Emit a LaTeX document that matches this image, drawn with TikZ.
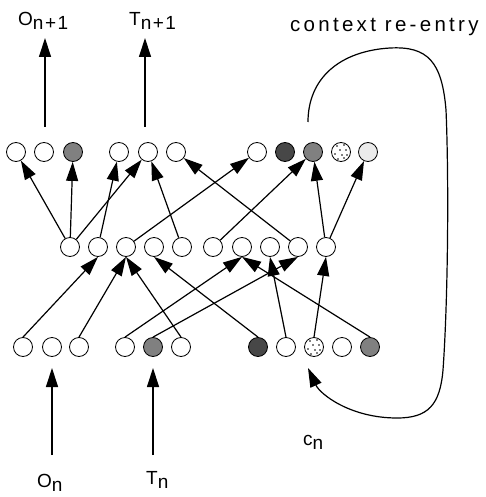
\documentclass[tikz,border=0pt]{standalone}
\usepackage{fontspec}
\setmainfont{Liberation Sans}
\newfontfamily\lsf[LetterSpace=8]{Liberation Sans}
\newfontfamily\lsfw[LetterSpace=16]{Liberation Sans}
\usetikzlibrary{arrows.meta,calc}
\newcommand{\speckle}[1]{%
  \foreach \dx/\dy in {-4/-6,3/-7,-1/-2,5/-2,-6/2,1/3,6/3,-3/7,3/6}
    \fill ($(#1)+(\dx,\dy)$) circle (0.8pt);}
\begin{document}
\begin{tikzpicture}[x=1pt,y=-1pt,
  unit/.style={circle,draw,line width=0.8pt,minimum size=19pt,inner sep=0pt,fill=white},
  grayu/.style={unit,fill=black!50},
  darku/.style={unit,fill=black!72},
  lightu/.style={unit,fill=black!8},
  conn/.style={line width=1.2pt,-{Triangle[length=19pt,width=12pt]}},
  lab/.style={font=\lsf\fontsize{19}{21}\selectfont,inner sep=0pt,anchor=base west}]
\useasboundingbox[fill=white] (0,0) rectangle (486,497);
% top layer
\foreach \n/\x in {1/16,2/44,4/119,5/148,6/176,7/257,10/341}
  \node[unit] (t\n) at (\x,152) {};
\node[grayu] (t3) at (73,152) {};
\node[darku] (t8) at (285,152) {};
\node[grayu] (t9) at (313,152) {};
\node[lightu] (t11) at (368,152) {};
\speckle{t10}
% hidden layer
\foreach \n/\x in {1/70,2/98,3/126,4/154,5/182,6/213,7/242,8/270,9/298,10/326}
  \node[unit] (h\n) at (\x,247) {};
% input layer
\foreach \n/\x in {1/23,2/52,3/79,4/125,6/181,8/286,9/314,10/342}
  \node[unit] (i\n) at (\x,347) {};
\node[grayu] (i5) at (153,347) {};
\node[darku] (i7) at (258,347) {};
\node[grayu] (i11) at (370,347) {};
\speckle{i9}
% hidden -> top
\foreach \a/\b in {1/1,1/3,1/5,2/4,5/5,3/7,9/6,6/9,10/9,10/11}
  \draw[conn] (h\a) -- (t\b);
% input -> hidden
\foreach \a/\b in {1/2,3/3,6/3,7/4,4/7,11/7,8/8,5/9,9/10}
  \draw[conn] (i\a.north) -- (h\b.south);
% external arrows
\coordinate (oa) at (45,127); \coordinate (ob) at (45,38);
\coordinate (ta) at (145,127); \coordinate (tb) at (145,38);
\coordinate (ia) at (52,455); \coordinate (ib) at (52,368);
\coordinate (ja) at (153,455); \coordinate (jb) at (153,368);
\draw[conn] (oa) -- (ob);
\draw[conn] (ta) -- (tb);
\draw[conn] (ia) -- (ib);
\draw[conn] (ja) -- (jb);
% context re-entry loop
\coordinate (cs) at (308,122);
\coordinate (ce) at (308,368);
\draw[conn] (cs) .. controls (308,78) and (340,51) .. (390,48)
  .. controls (428,46) and (442,62) .. (446,110)
  .. controls (449,180) and (448,300) .. (443,370)
  .. controls (440,405) and (428,418) .. (397,418)
  .. controls (350,418) and (320,394) .. (ce);
% labels
\node[lab] (lo1) at (18,26) {O\raisebox{-4pt}{n+1}};
\node[lab] (lt1) at (129,26) {T\raisebox{-4pt}{n+1}};
\node[lab] (lon) at (37,487) {O\raisebox{-4pt}{n}};
\node[lab] (ltn) at (146,484) {T\raisebox{-4pt}{n}};
\node[lab] (lcn) at (303,445) {c\raisebox{-4pt}{n}};
\node[lab,font=\lsfw\fontsize{20.5}{22}\selectfont] (lctx) at (290,32) {context re-entry};
\end{tikzpicture}
\end{document}
